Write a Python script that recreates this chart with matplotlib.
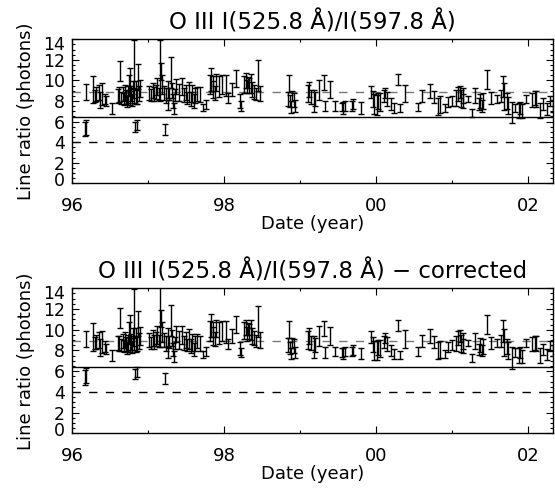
import matplotlib
matplotlib.use('Agg')
import matplotlib.pyplot as plt
from matplotlib.ticker import MultipleLocator, FuncFormatter
from matplotlib.transforms import ScaledTranslation

# Dates (year - 1900)
years = [96.17, 96.18, 96.18, 96.28, 96.30, 96.32, 96.36, 96.37, 96.40, 96.43, 96.45, 96.53,
         96.60, 96.62, 96.63, 96.65, 96.67, 96.68, 96.70, 96.71, 96.72, 96.74, 96.75, 96.76,
         96.77, 96.78, 96.79, 96.80, 96.81, 96.82, 96.83, 96.84, 96.85, 96.86, 96.87, 96.88, 96.90,
         97.02, 97.04, 97.06, 97.08, 97.10, 97.12, 97.14, 97.16, 97.17, 97.19, 97.21, 97.22,
         97.24, 97.26, 97.27, 97.28, 97.30, 97.31, 97.33, 97.34, 97.35, 97.37, 97.41, 97.45,
         97.47, 97.50, 97.52, 97.54, 97.56, 97.58, 97.60, 97.62, 97.65, 97.68, 97.72,
         97.77, 97.82, 97.83, 97.85, 97.86, 97.88, 97.90, 97.93, 97.97, 98.03, 98.05, 98.10,
         98.16, 98.21, 98.23, 98.27, 98.29, 98.30, 98.32, 98.33, 98.35, 98.37, 98.40, 98.42, 98.45, 98.47,
         98.84, 98.86, 98.87, 98.88, 98.90, 98.92, 98.94, 99.10, 99.12, 99.15, 99.18, 99.20, 99.25, 99.31, 99.33,
         99.40, 99.46, 99.55, 99.57, 99.59, 99.69, 99.70, 99.80,
         99.94, 99.96, 99.98, 100.01, 100.03, 100.05, 100.10, 100.12, 100.15, 100.20, 100.24, 100.29, 100.31, 100.38,
         100.56, 100.60, 100.71, 100.77, 100.82, 100.84, 100.91, 100.95, 101.00,
         101.06, 101.08, 101.10, 101.12, 101.14, 101.15, 101.21, 101.26, 101.30, 101.35, 101.37, 101.39, 101.41, 101.46,
         101.52, 101.59, 101.64, 101.67, 101.69, 101.72, 101.74, 101.79, 101.83, 101.88, 101.90, 101.92,
         101.98, 102.05, 102.09, 102.11, 102.16, 102.20, 102.25, 102.29, 102.33]

ratio = [5.3, 5.4, 8.9, 9.1, 8.5, 8.7, 8.8, 8.1, 8.7, 8.2, 8.0, 7.3,
         8.5, 8.6, 10.9, 8.3, 8.7, 8.2, 8.8, 8.4, 8.0, 8.6, 9.5, 10.1,
         8.3, 8.7, 8.1, 9.1, 11.6, 8.5, 5.5, 8.8, 8.4, 5.7, 10.4, 8.7, 9.2,
         8.8, 8.6, 9.0, 8.7, 8.9, 9.4, 8.7, 11.0, 10.9, 9.6, 8.8, 5.2,
         8.5, 9.1, 7.6, 8.7, 10.8, 9.0, 8.0, 7.3, 8.6, 9.4, 8.8, 9.4,
         8.6, 8.8, 8.3, 8.9, 8.2, 8.7, 8.0, 8.5, 8.7, 8.6, 7.4,
         7.7, 9.6, 10.1, 9.1, 9.7, 8.8, 9.8, 9.4, 9.6, 9.5, 8.3, 9.1,
         10.2, 8.0, 7.5, 9.6, 10.0, 9.4, 9.8, 9.5, 9.7, 9.1, 8.9, 8.7, 10.5, 8.7,
         8.2, 9.7, 8.0, 7.4, 8.5, 8.1, 7.5, 8.7, 9.1, 8.4, 8.0, 8.2, 9.1, 9.8, 7.5,
         9.1, 7.5, 7.4, 7.3, 7.5, 7.5, 7.7, 7.3,
         8.9, 8.2, 7.7, 7.6, 8.0, 7.9, 8.5, 8.8, 8.2, 7.7, 7.3, 10.1, 7.3, 8.7,
         7.4, 8.5, 9.0, 8.4, 7.5, 7.7, 7.3, 7.9, 8.0,
         8.3, 8.7, 8.9, 8.2, 8.5, 8.0, 8.2, 6.8, 8.5, 7.7, 8.0, 7.5, 8.0, 10.1,
         8.3, 8.2, 8.5, 9.4, 8.4, 8.0, 7.6, 6.9, 7.3, 7.1, 7.3, 7.0,
         8.2, 8.1, 8.3, 8.2, 7.1, 7.7, 7.2, 8.0, 7.5]

ratio_corr = [5.4, 5.6, 9.1, 9.3, 8.7, 8.8, 9.0, 8.3, 8.8, 8.4, 8.1, 7.5,
              8.7, 8.7, 11.1, 8.5, 8.9, 8.4, 9.0, 8.6, 8.2, 8.7, 9.7, 10.3,
              8.5, 8.8, 8.3, 9.3, 11.6, 8.7, 5.7, 9.0, 8.6, 5.9, 10.6, 8.9, 9.4,
              9.0, 8.7, 9.2, 8.8, 9.1, 9.5, 8.9, 11.3, 11.1, 9.8, 9.0, 5.3,
              8.7, 9.3, 7.8, 8.8, 10.9, 9.2, 8.1, 7.4, 8.7, 9.6, 9.0, 9.5,
              8.7, 9.0, 8.5, 9.1, 8.4, 8.8, 8.1, 8.7, 8.9, 8.7, 7.6,
              7.9, 9.9, 10.4, 9.4, 10.0, 9.1, 10.1, 9.7, 9.9, 9.8, 8.6, 9.4,
              10.5, 8.2, 7.8, 9.9, 10.2, 9.6, 10.1, 9.8, 10.0, 9.4, 9.2, 8.9, 10.8, 9.0,
              8.5, 10.0, 8.2, 7.7, 8.7, 8.4, 7.8, 9.0, 9.4, 8.7, 8.3, 8.5, 9.4, 10.1, 7.8,
              9.4, 7.9, 7.8, 7.7, 7.9, 7.9, 8.0, 7.7,
              9.3, 8.6, 8.0, 8.0, 8.3, 8.2, 8.8, 9.2, 8.6, 8.0, 7.7, 10.4, 7.6, 9.1,
              7.9, 8.9, 9.4, 8.8, 8.0, 8.1, 7.7, 8.3, 8.5,
              8.7, 9.2, 9.4, 8.7, 8.9, 8.4, 8.7, 7.3, 8.9, 8.1, 8.5, 8.0, 8.4, 10.5,
              8.7, 8.7, 8.9, 9.9, 8.8, 8.4, 8.0, 7.3, 7.8, 7.5, 7.8, 7.4,
              8.7, 8.6, 8.7, 8.7, 7.5, 8.1, 7.6, 8.4, 8.0]

ratio_err = [0.70, 0.74, 0.79, 1.31, 0.57, 0.66, 0.74, 0.79, 1.05, 0.52, 0.48, 0.52,
             0.66, 0.74, 0.96, 0.57, 0.66, 0.57, 0.74, 0.66, 0.57, 0.83, 1.05, 1.14,
             0.66, 0.74, 0.57, 0.83, 2.36, 0.66, 0.48, 1.14, 0.66, 0.48, 1.22, 0.74, 0.83,
             0.66, 0.57, 0.74, 0.66, 0.66, 0.83, 0.57, 2.97, 0.83, 0.96, 0.66, 0.52,
             0.74, 0.83, 0.52, 0.57, 1.49, 0.74, 0.66, 0.52, 0.57, 0.74, 0.83, 0.83,
             0.66, 0.74, 0.57, 0.96, 0.66, 0.83, 0.66, 0.74, 0.66, 0.74, 0.35,
             0.44, 0.96, 1.14, 0.83, 0.74, 0.66, 0.83, 1.05, 0.96, 1.05, 0.48, 0.66,
             0.83, 0.66, 0.48, 0.83, 0.74, 0.66, 0.57, 0.74, 0.96, 0.74, 0.66, 0.57, 1.49, 0.74,
             0.66, 0.83, 0.57, 0.57, 0.48, 0.66, 0.57, 0.83, 0.74, 0.66, 1.05, 0.66, 0.96, 0.70, 0.52,
             0.83, 0.48, 0.39, 0.57, 0.48, 0.48, 0.48, 0.57,
             0.57, 0.74, 0.96, 0.96, 0.74, 0.83, 0.57, 0.48, 0.66, 0.57, 0.48, 0.57, 0.39, 0.83,
             0.39, 0.57, 0.66, 0.57, 0.83, 0.83, 0.39, 0.48, 0.48,
             0.74, 0.66, 0.57, 0.83, 0.74, 0.66, 0.31, 0.39, 0.74, 0.57, 0.66, 0.57, 0.74, 0.96,
             0.57, 0.39, 0.57, 1.05, 1.31, 0.74, 0.83, 1.05, 0.39, 0.74, 0.57, 0.66,
             0.39, 0.66, 0.66, 0.74, 0.74, 0.57, 0.57, 0.48, 0.57]

# Reference levels
mean_level = 8.9
cut_level = 6.4
low_level = 4.0

titles = ["O III I(525.8 Å)/I(597.8 Å)", "O III I(525.8 Å)/I(597.8 Å) \u2212 corrected"]
series = [ratio, ratio_corr]
year_ticks = [96, 98, 100, 102]
y_ticks = [0, 2, 4, 6, 8, 10, 12, 14]

fig = plt.figure(figsize=(5.55, 4.88), dpi=100)
ax_top = fig.add_axes([0.1297, 0.6244, 0.8667, 0.2951])
ax_bot = fig.add_axes([0.1297, 0.1121, 0.8667, 0.2971])

for i, ax in enumerate([ax_top, ax_bot]):
    ax.errorbar(years, series[i], yerr=ratio_err, fmt='none', ecolor='black',
                elinewidth=1.0, capsize=2.3, capthick=1.0, zorder=3)
    ax.axhline(cut_level, color='black', lw=1.0, zorder=2)
    ax.axhline(low_level, color='black', lw=1.0, ls=(0, (6, 6)), zorder=2)
    ax.axhline(mean_level, color='#777777', lw=1.0, ls=(0, (6, 6)), zorder=2)
    ax.set_xlim(96, 102.33)
    ax.set_ylim(0, 14)
    ax.set_xticks(year_ticks)
    ax.xaxis.set_major_formatter(FuncFormatter(lambda v, p: "%02d" % (int(round(v)) % 100)))
    ax.xaxis.set_minor_locator(MultipleLocator(1))
    ax.set_yticks(y_ticks)
    ax.yaxis.set_minor_locator(MultipleLocator(0.5))
    ax.tick_params(which='both', direction='in', top=True, right=True, width=0.8)
    ax.tick_params(axis='x', labelsize=13, pad=10)
    ax.tick_params(axis='y', labelsize=12.5, pad=5)
    ax.tick_params(which='major', length=5)
    ax.tick_params(which='minor', length=2.5)
    ax.set_xlabel("Date (year)", fontsize=13, labelpad=0)
    ax.set_ylabel("Line ratio (photons)", fontsize=13, labelpad=6)
    ax.set_title(titles[i], fontsize=16.5, pad=7)
    yt = ax.yaxis.get_major_ticks()
    lb0 = yt[0].label1
    lb0.set_transform(lb0.get_transform() + ScaledTranslation(0, 0.04, fig.dpi_scale_trans))
    lbn = yt[-1].label1
    lbn.set_transform(lbn.get_transform() + ScaledTranslation(0, -0.04, fig.dpi_scale_trans))
    for s in ax.spines.values():
        s.set_linewidth(1.0)

fig.savefig("out.png", dpi=100, facecolor='white')
